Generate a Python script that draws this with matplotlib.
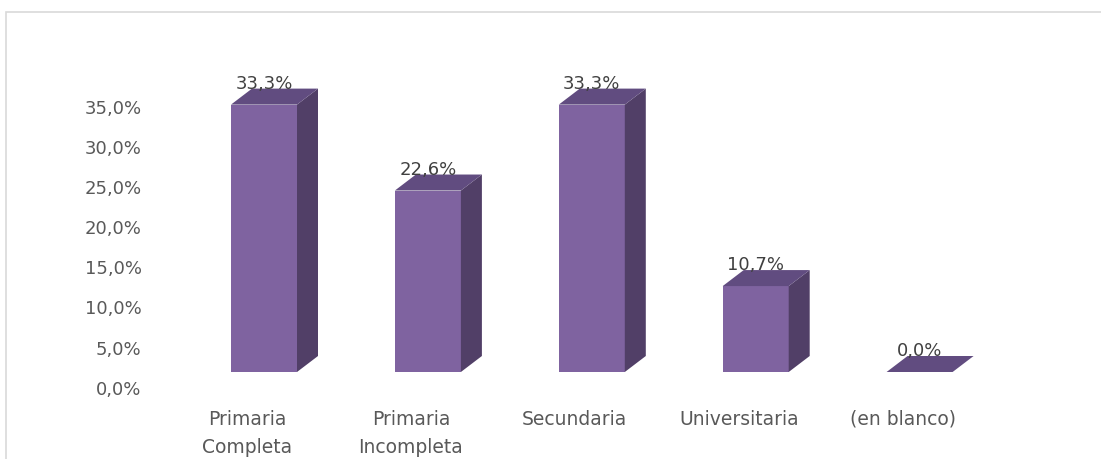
import matplotlib
matplotlib.use("Agg")
import matplotlib.pyplot as plt
from matplotlib.patches import Polygon, Rectangle
from matplotlib.ticker import FuncFormatter

categories = ["Primaria\nCompleta", "Primaria\nIncompleta", "Secundaria", "Universitaria", "(en blanco)"]
values = [33.3, 22.6, 33.3, 10.7, 0.0]
value_labels = ["33,3%", "22,6%", "33,3%", "10,7%", "0,0%"]
yticks = [0, 5, 10, 15, 20, 25, 30, 35]

W, H = 1101, 460
fig = plt.figure(figsize=(W / 100, H / 100), dpi=100)
fig.patch.set_facecolor("white")

# outer chart border (only left and top visible, cropped)
fig.patches.append(Rectangle((6 / W, -0.1), 1.2, (H - 13) / H + 0.1, transform=fig.transFigure,
                             fill=False, edgecolor="#D9D9D9", linewidth=1.2))

# axes geometry in pixels
ax_left, ax_right = 150, 1090
ax_top, ax_bottom = 40, 400
ax = fig.add_axes([ax_left / W, (H - ax_bottom) / H, (ax_right - ax_left) / W, (ax_bottom - ax_top) / H])

ppx = 163.9          # pixels per category
x0 = 264             # pixel of category 0 front centre
ppy = 8.03           # pixels per percent
y0 = 387.7           # pixel of 0 %
ax.set_xlim((ax_left - x0) / ppx, (ax_right - x0) / ppx)
ax.set_ylim(-(ax_bottom - y0) / ppy, (y0 - ax_top) / ppy)

width = 66 / ppx
dx = 21 / ppx
dy = 16 / ppy
base = 14.7 / ppy

front_c = "#7F63A0"
side_c = "#513F67"
top_c = "#614C80"

xs = list(range(len(values)))
ax.bar(xs, values, width=width, bottom=base, color=front_c, edgecolor="none", zorder=2)
for x, v, lab in zip(xs, values, value_labels):
    r = x + width / 2
    l = x - width / 2
    side = Polygon([(r, base), (r + dx, base + dy), (r + dx, base + v + dy), (r, base + v)],
                   closed=True, facecolor=side_c, edgecolor="none", zorder=2)
    top = Polygon([(l, base + v), (l + dx, base + v + dy), (r + dx, base + v + dy), (r, base + v)],
                  closed=True, facecolor=top_c, edgecolor="none", zorder=3)
    ax.add_patch(side)
    ax.add_patch(top)
    ax.text(x, base + v + dy + 0.1, lab, ha="center", va="baseline", fontsize=13,
            color="#404040", zorder=4)

ax.set_yticks(yticks)
ax.yaxis.set_major_formatter(FuncFormatter(lambda v, p: f"{v:.1f}".replace(".", ",") + "%"))
ax.set_xticks([x - 17 / ppx for x in xs])
ax.set_xticklabels(categories)
for t in ax.get_xticklabels():
    t.set_linespacing(1.62)
ax.tick_params(axis="y", length=0, pad=6, labelsize=13, labelcolor="#595959")
ax.tick_params(axis="x", length=0, pad=7, labelsize=13.5, labelcolor="#595959")
for s in ax.spines.values():
    s.set_visible(False)
ax.set_facecolor("none")

fig.savefig("out.png", dpi=100, facecolor="white")
